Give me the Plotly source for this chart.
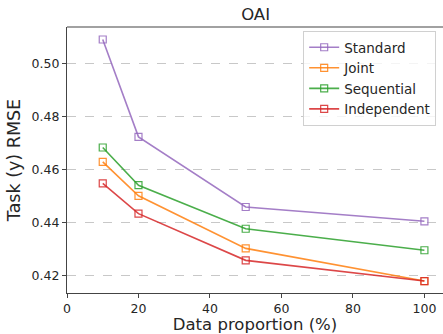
import plotly.graph_objects as go

x_vals = [10, 20, 50, 100]
standard = [0.5090, 0.4723, 0.4459, 0.4405]
joint = [0.4629, 0.4501, 0.4303, 0.4180]
sequential = [0.4683, 0.4541, 0.4377, 0.4296]
independent = [0.4548, 0.4434, 0.4258, 0.4180]

series = [
    ("Standard", standard, "rgba(148,103,189,0.85)"),
    ("Joint", joint, "rgba(255,127,14,0.85)"),
    ("Sequential", sequential, "rgba(44,160,44,0.85)"),
    ("Independent", independent, "rgba(214,39,40,0.85)"),
]

fig = go.Figure()
for name, vals, col in series:
    fig.add_trace(go.Scatter(
        x=x_vals, y=vals, name=name, mode="lines+markers",
        line=dict(color=col, width=1.6),
        marker=dict(symbol="square-open", size=7, color=col, line=dict(width=1.2, color=col)),
    ))

font = "DejaVu Sans, sans-serif"
fig.update_layout(
    width=443, height=334,
    margin=dict(l=67, r=0, t=27, b=41),
    paper_bgcolor="white", plot_bgcolor="white",
    font=dict(family=font, color="#262626", size=12),
    title=dict(text="OAI", x=0.577, xanchor="center", y=0.957, yanchor="middle",
               font=dict(size=16.5, color="#262626")),
    xaxis=dict(range=[0, 105.2], tickvals=[0, 20, 40, 60, 80, 100],
               showgrid=False, zeroline=False, showline=True, linecolor="#444", linewidth=1.2,
               ticks="outside", ticklen=4, tickcolor="#444", mirror=False,
               title=dict(text="Data proportion (%)", font=dict(size=16.5), standoff=6),
               tickfont=dict(size=12.5)),
    yaxis=dict(range=[0.4135, 0.5137], tickvals=[0.42, 0.44, 0.46, 0.48, 0.50],
               ticktext=["0.42", "0.44", "0.46", "0.48", "0.50"],
               showgrid=True, gridcolor="#c8c8c8", griddash="dash", gridwidth=0.8,
               zeroline=False, showline=True, linecolor="#444", linewidth=1.2,
               ticks="outside", ticklen=4, tickcolor="#444",
               title=dict(text="Task (y) RMSE", font=dict(size=17.5), standoff=6),
               tickfont=dict(size=12.5)),
    legend=dict(x=0.805, y=0.985, xanchor="center", yanchor="top",
                bgcolor="rgba(255,255,255,0.8)", bordercolor="#d0d0d0", borderwidth=1,
                font=dict(size=13.5), tracegroupgap=0, itemwidth=30),
    shapes=[dict(type="line", xref="paper", yref="paper", x0=0, x1=1, y0=1, y1=1,
                 line=dict(color="#444", width=1.2))],
)

fig.write_html("out.html")
